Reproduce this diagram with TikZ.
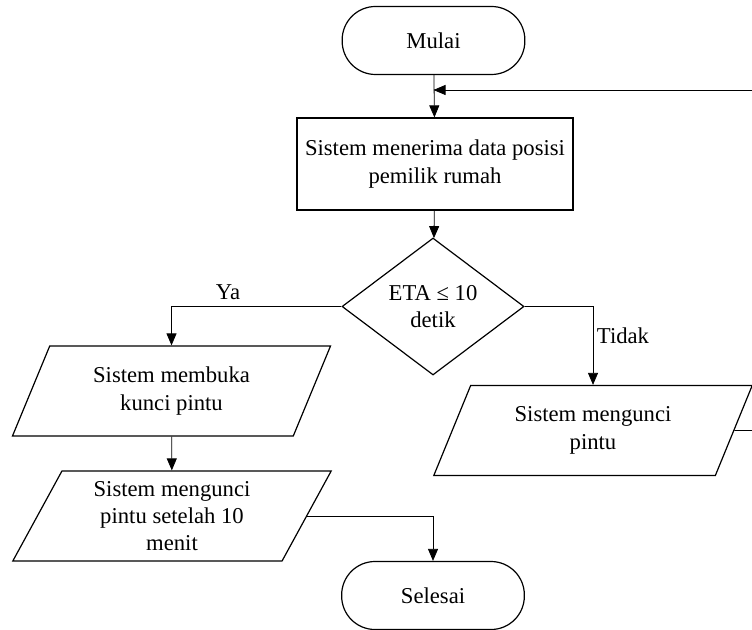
\documentclass[tikz,border=0pt]{standalone}
\usepackage{fontspec}
\setmainfont{Liberation Serif}
\usepackage{tikz}
\usetikzlibrary{shapes.geometric,arrows.meta}

\begin{document}
\begin{tikzpicture}[x=0.75pt,y=-0.75pt,
    font=\fontsize{17}{20.5}\selectfont,
    term/.style={draw,line width=0.9pt,rounded corners=25pt,minimum width=137pt,minimum height=51pt,align=center},
    proc/.style={draw,line width=0.9pt,minimum width=207pt,minimum height=69pt,align=center},
    dec/.style={draw,line width=0.9pt,diamond,aspect=1.33,inner sep=0pt,minimum width=136.5pt,minimum height=102.75pt,align=center},
    io/.style={draw,line width=0.9pt,trapezium,trapezium left angle=63.4,trapezium right angle=116.6,trapezium stretches=true,minimum width=239pt,minimum height=67.5pt,inner sep=0pt,align=center},
    arr/.style={line width=0.6pt,-{Triangle[length=9pt,width=7.5pt]}}]
    \useasboundingbox (0,0) rectangle (752,630);
    \node[term] (mulai) at (433.5,40.5) {Mulai};
    \node[proc] (terima) at (435,164) {Sistem menerima data posisi\\pemilik rumah};
    \node[dec] (eta) at (433,306.5) {ETA ≤ 10\\detik};
    \node[io] (buka) at (171.5,391) {Sistem membuka\\kunci pintu};
    \node[io] (kunci) at (172,516) {Sistem mengunci\\pintu setelah 10\\menit};
    \node[io] (kunci2) at (593,430.5) {Sistem mengunci\\pintu};
    \node[term] (selesai) at (433,595.5) {Selesai};
    \node (ya) at (228,292) {Ya};
    \node (tidak) at (623,336) {Tidak};
    \coordinate (r1) at (752,430.5);
    \coordinate (r2) at (752,90);
    \draw[arr] (mulai) -- (terima);
    \draw[arr] (terima) -- (eta);
    \draw[arr] (eta.west) -| (buka.north);
    \draw[arr] (eta.east) -| (kunci2.north);
    \draw[arr] (buka) -- (kunci);
    \draw[arr] (kunci.east) -| (selesai.north);
    \draw[line width=0.6pt] (kunci2.east) -- (r1);
    \draw[arr] (r2) -- (mulai.south |- r2);
\end{tikzpicture}
\end{document}
